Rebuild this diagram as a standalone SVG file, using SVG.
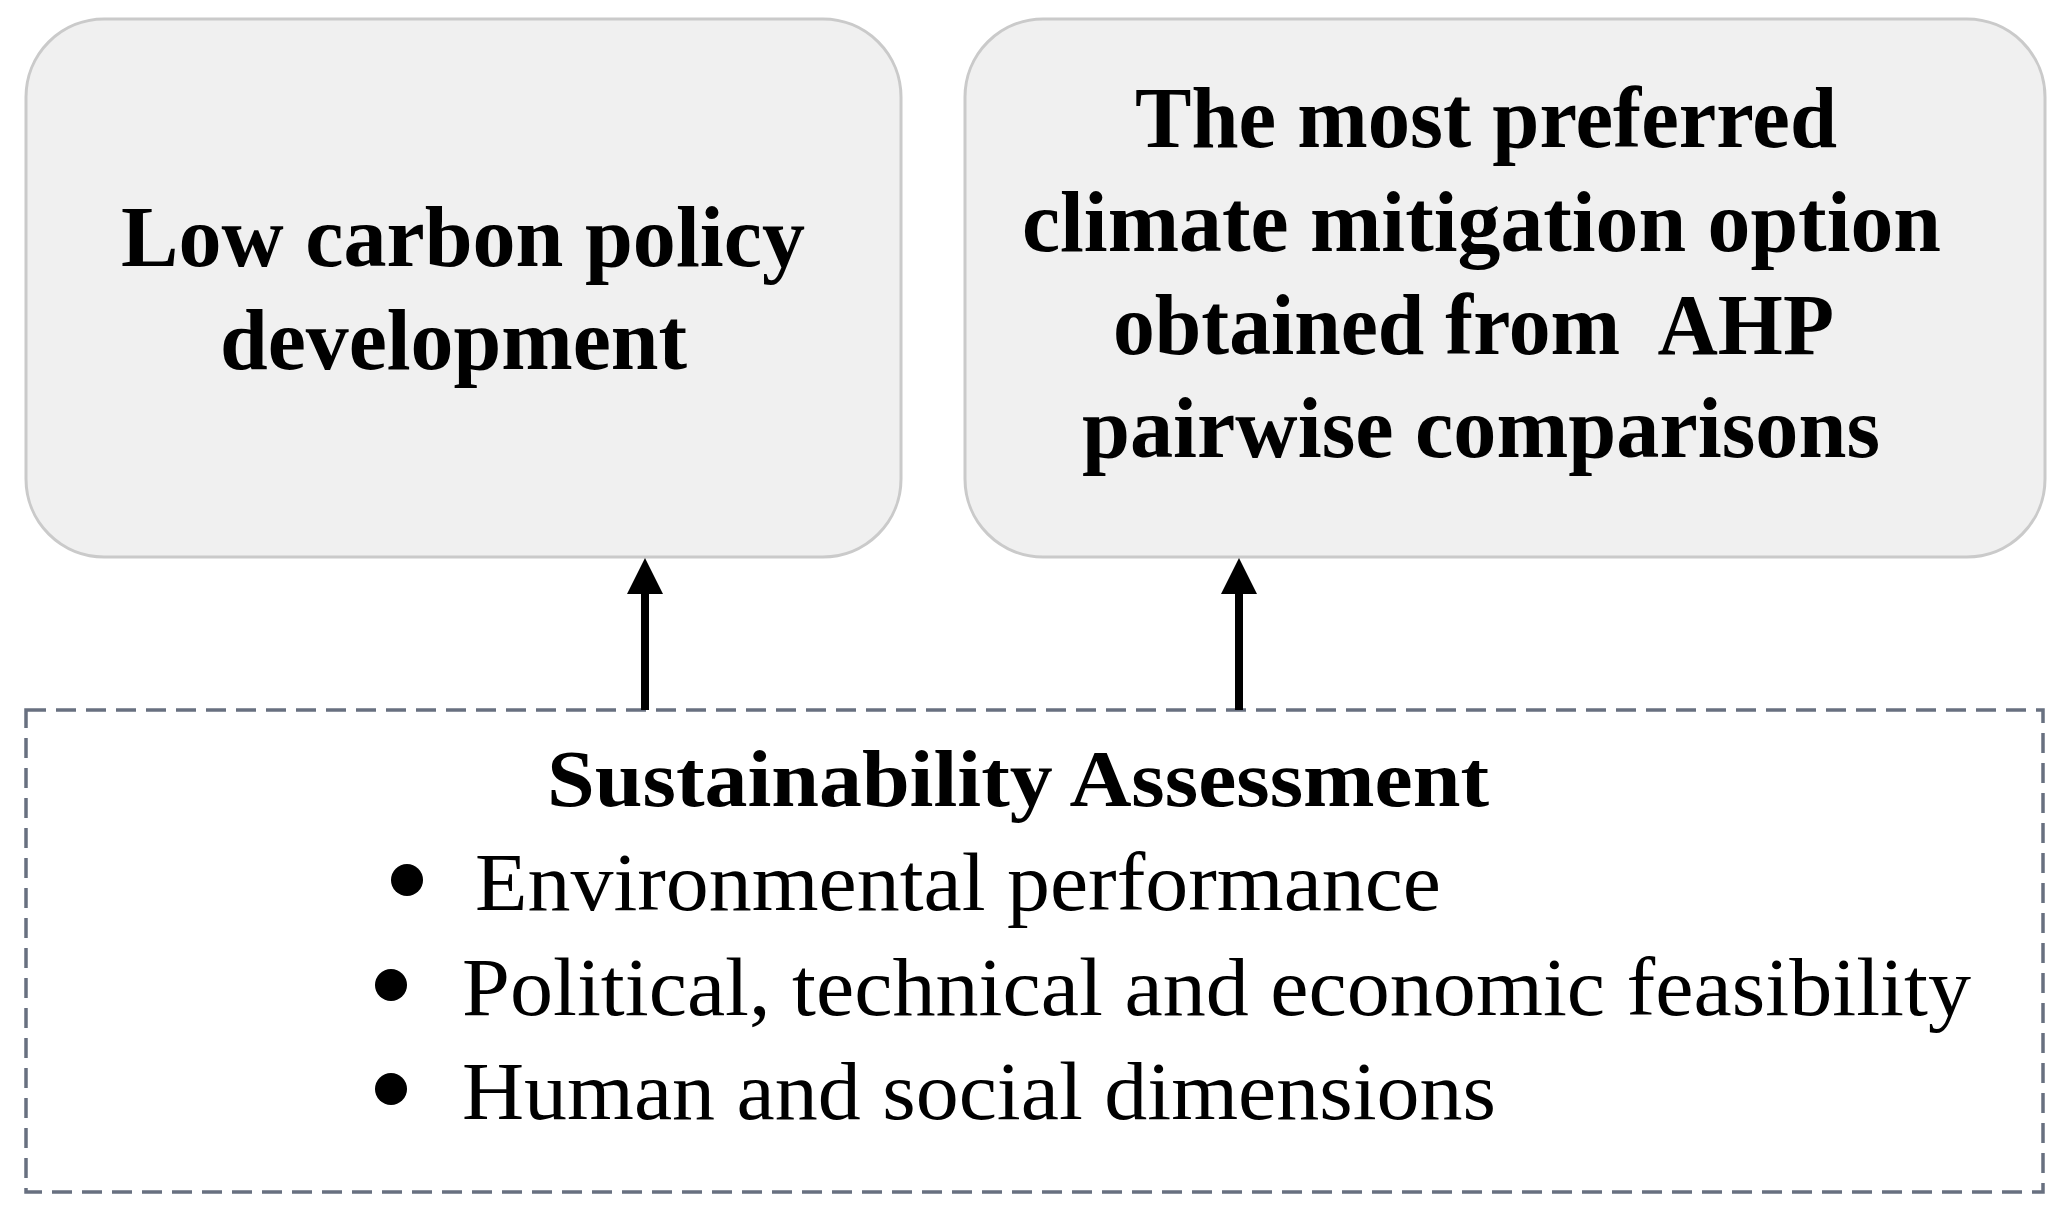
<svg xmlns="http://www.w3.org/2000/svg" width="2072" height="1223" viewBox="0 0 2072 1223">
<style>
.box{fill:#f0f0f0;stroke:#cacaca;stroke-width:3}
.dash{fill:#ffffff;stroke:#687080;stroke-width:3.5;stroke-dasharray:20 10}
.tb{font-family:"Liberation Serif","Times New Roman",serif;font-weight:bold;font-size:87px;fill:#000;white-space:pre}
.tr{font-family:"Liberation Serif","Times New Roman",serif;font-size:82px;fill:#000;white-space:pre}
.tsb{font-family:"Liberation Serif","Times New Roman",serif;font-weight:bold;font-size:80px;fill:#000}
.conn{stroke:#000;stroke-width:8;fill:none}
</style>
<rect width="2072" height="1223" fill="#ffffff"/>
<g id="node-low-carbon">
<rect class="box" x="26" y="19" width="875" height="538" rx="78" ry="78"/>
<text class="tb" x="121" y="266" textLength="684" lengthAdjust="spacingAndGlyphs">Low carbon policy</text>
<text class="tb" x="220" y="369" textLength="467" lengthAdjust="spacingAndGlyphs">development</text>
</g>
<g id="node-preferred">
<rect class="box" x="965" y="19" width="1080" height="538" rx="78" ry="78"/>
<text class="tb" x="1135" y="147" textLength="702" lengthAdjust="spacingAndGlyphs">The most preferred</text>
<text class="tb" x="1022" y="251" textLength="919" lengthAdjust="spacingAndGlyphs">climate mitigation option</text>
<text class="tb" x="1113" y="354" textLength="721" lengthAdjust="spacingAndGlyphs">obtained from  AHP</text>
<text class="tb" x="1082" y="457" textLength="798" lengthAdjust="spacingAndGlyphs">pairwise comparisons</text>
</g>
<g id="node-sustainability">
<rect class="dash" x="26" y="710" width="2017" height="482"/>
<text class="tsb" x="547" y="806" textLength="942" lengthAdjust="spacingAndGlyphs">Sustainability Assessment</text>
<circle cx="407" cy="880" r="16" fill="#000"/>
<text class="tr" x="475" y="910" textLength="966" lengthAdjust="spacingAndGlyphs">Environmental performance</text>
<circle cx="391" cy="985" r="16" fill="#000"/>
<text class="tr" x="462" y="1015" textLength="1509" lengthAdjust="spacingAndGlyphs">Political, technical and economic feasibility</text>
<circle cx="391" cy="1089" r="16" fill="#000"/>
<text class="tr" x="462" y="1119" textLength="1034" lengthAdjust="spacingAndGlyphs">Human and social dimensions</text>
</g>
<g id="connectors">
<line class="conn" x1="645" y1="710" x2="645" y2="594"/>
<path d="M627,594 L645,558 L663,594 z" fill="#000"/>
<line class="conn" x1="1239" y1="710" x2="1239" y2="594"/>
<path d="M1221,594 L1239,558 L1257,594 z" fill="#000"/>
</g>
</svg>
